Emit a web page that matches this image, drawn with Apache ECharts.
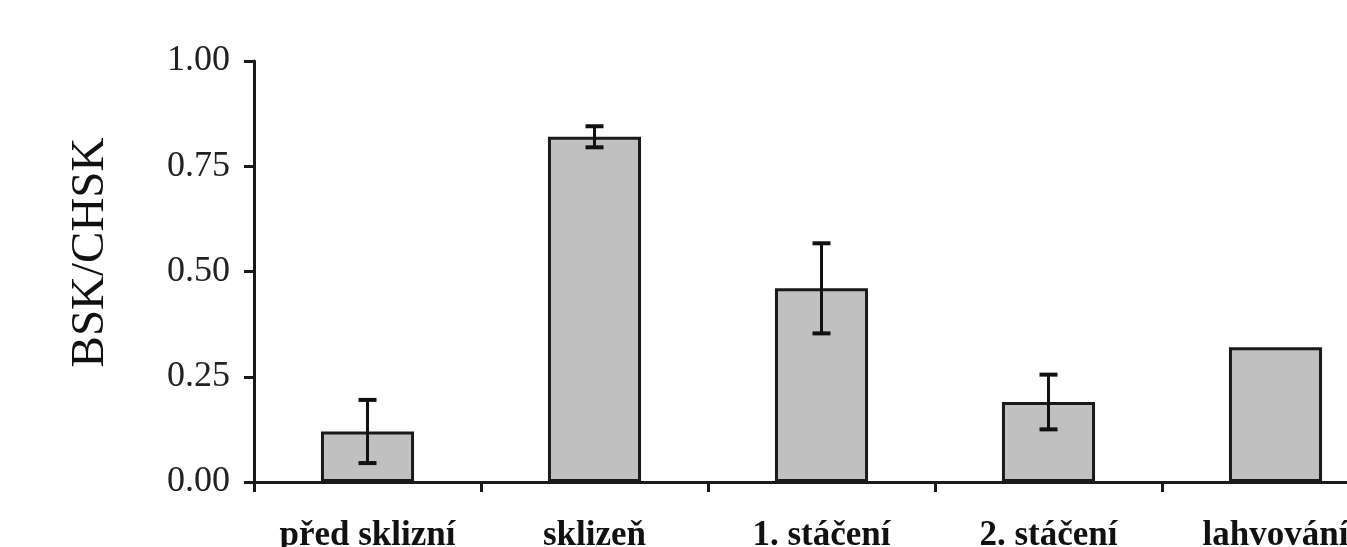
<!DOCTYPE html>
<html>
<head>
<meta charset="utf-8">
<script src="https://cdn.jsdelivr.net/npm/echarts@6/dist/echarts.min.js"></script>
<style>html,body{margin:0;padding:0;background:#fff;}#c{width:1347px;height:547px;}</style>
</head>
<body>
<div id="c"></div>
<script>
var categories = ['před sklizní', 'sklizeň', '1. stáčení', '2. stáčení', 'lahvování'];
var values = [0.12, 0.82, 0.46, 0.19, 0.32];
var errors = [0.075, 0.025, 0.107, 0.065, null];
var yTicks = [0, 0.25, 0.5, 0.75, 1.0];

var errData = [];
for (var i = 0; i < categories.length; i++) {
  if (errors[i] != null) errData.push([i, values[i] - errors[i], values[i] + errors[i]]);
}

var chart = echarts.init(document.getElementById('c'));
chart.setOption({
  animation: false,
  backgroundColor: '#fff',
  grid: { left: 254, top: 61, bottom: 65, width: 1135, outerBoundsMode: 'none', containLabel: false },
  xAxis: {
    type: 'category',
    data: categories,
    axisLine: { lineStyle: { color: '#1a1a1a', width: 3 } },
    axisTick: { show: true, length: 10, lineStyle: { color: '#1a1a1a', width: 3 }, alignWithLabel: false },
    axisLabel: { color: '#111', fontFamily: 'Liberation Serif', fontWeight: 'bold', fontSize: 35, margin: 36, interval: 0 }
  },
  yAxis: {
    type: 'value',
    min: 0, max: 1, interval: 0.25,
    name: 'BSK/CHSK',
    nameLocation: 'middle',
    nameGap: 140,
    nameRotate: 90,
    nameTextStyle: { color: '#111', fontFamily: 'Liberation Serif', fontSize: 47, padding: [0, 0, 0, 38] },
    axisLine: { show: true, lineStyle: { color: '#1a1a1a', width: 3 } },
    axisTick: { show: true, length: 10, lineStyle: { color: '#1a1a1a', width: 3 } },
    splitLine: { show: false },
    axisLabel: {
      color: '#222', fontFamily: 'Liberation Serif', fontSize: 36, margin: 24,
      formatter: function (v) { return v.toFixed(2); }
    }
  },
  series: [
    {
      type: 'bar',
      data: values,
      barWidth: '41%',
      itemStyle: { color: '#c0c0c0', borderColor: '#1a1a1a', borderWidth: 3 }
    },
    {
      type: 'custom',
      data: errData,
      z: 10,
      renderItem: function (params, api) {
        var x = api.value(0);
        var lo = api.coord([x, api.value(1)]);
        var hi = api.coord([x, api.value(2)]);
        var hw = 9;
        var st = { stroke: '#111', lineWidth: 3 };
        return {
          type: 'group',
          children: [
            { type: 'line', shape: { x1: lo[0], y1: lo[1], x2: hi[0], y2: hi[1] }, style: st },
            { type: 'line', shape: { x1: lo[0] - hw, y1: lo[1], x2: lo[0] + hw, y2: lo[1] }, style: { stroke: '#111', lineWidth: 4 } },
            { type: 'line', shape: { x1: hi[0] - hw, y1: hi[1], x2: hi[0] + hw, y2: hi[1] }, style: { stroke: '#111', lineWidth: 4 } }
          ]
        };
      }
    }
  ]
});
</script>
</body>
</html>
